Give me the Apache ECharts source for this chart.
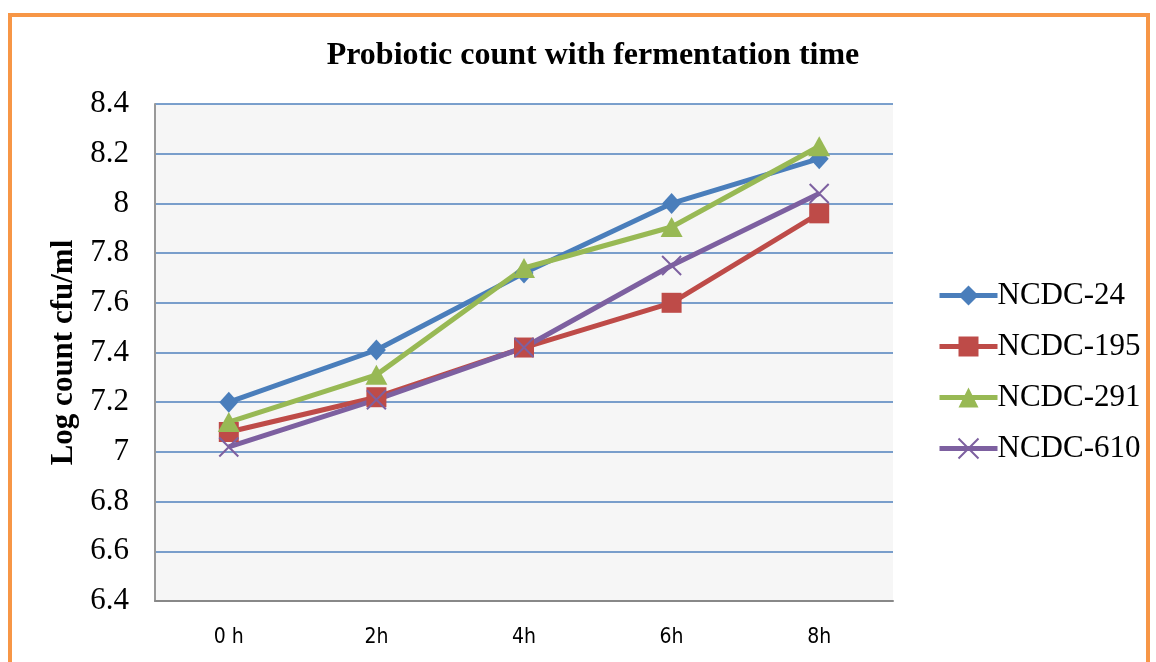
<!DOCTYPE html>
<html><head><meta charset="utf-8">
<script src="https://cdn.jsdelivr.net/npm/echarts@6/dist/echarts.min.js"></script>
<style>html,body{margin:0;padding:0;background:#fff}#c{width:1156px;height:662px}</style>
</head><body><div id="c"></div>
<script>
const categories = ['0 h', '2h', '4h', '6h', '8h'];
const ncdc24  = [7.20, 7.41, 7.72, 8.00, 8.18];
const ncdc195 = [7.08, 7.22, 7.42, 7.60, 7.96];
const ncdc291 = [7.12, 7.31, 7.74, 7.905, 8.23];
const ncdc610 = [7.02, 7.21, 7.42, 7.75, 8.04];
const seriesNames = ['NCDC-24', 'NCDC-195', 'NCDC-291', 'NCDC-610'];
const yTicks = { min: 6.4, max: 8.4, interval: 0.2 };

const chart = echarts.init(document.getElementById('c'));
const serif = '"Liberation Serif", "Times New Roman", serif';
function mk(name, data, color, symbol, size, extra) {
  return Object.assign({
    name, type: 'line', data, symbol, symbolSize: size,
    lineStyle: { color, width: 5 },
    itemStyle: { color },
    emphasis: { disabled: true },
    z: 3
  }, extra || {});
}
chart.setOption({
  animation: false,
  title: {
    text: 'Probiotic count with fermentation time',
    left: 588, top: 35, textAlign: 'center',
    textStyle: { fontFamily: serif, fontWeight: 'bold', fontSize: 32, color: '#000' }
  },
  graphic: [{
    type: 'rect', shape: { x: 10, y: 15, width: 1138, height: 700 },
    style: { fill: 'none', stroke: '#F79646', lineWidth: 4 }, z: -1
  }],
  grid: { left: 155, right: 263, top: 104, bottom: 61, show: true, backgroundColor: '#F6F6F6', borderWidth: 0 },
  legend: {
    orient: 'vertical', left: 932, top: 275, itemGap: 20,
    itemWidth: 58, itemHeight: 25,
    lineStyle: { width: 5 },
    textStyle: { fontFamily: serif, fontSize: 31, color: '#000', padding: [0, 0, 0, -5] },
    data: seriesNames
  },
  xAxis: {
    type: 'category', data: categories, boundaryGap: true,
    axisLine: { lineStyle: { color: '#888', width: 2 } },
    axisTick: { show: false },
    axisLabel: { fontFamily: '"DejaVu Sans Condensed", "Open Sans", sans-serif', fontSize: 21, color: '#000', margin: 26 }
  },
  yAxis: {
    type: 'value', min: yTicks.min, max: yTicks.max, interval: yTicks.interval,
    name: 'Log count cfu/ml', nameLocation: 'middle', nameGap: 76, nameRotate: 90,
    nameTextStyle: { fontFamily: serif, fontWeight: 'bold', fontSize: 31, color: '#000' },
    axisLine: { show: true, lineStyle: { color: '#999', width: 2 } },
    axisTick: { show: false },
    splitLine: { lineStyle: { color: '#4F81BD', width: 1.5 } },
    axisLabel: {
      fontFamily: serif, fontSize: 31, color: '#000', margin: 26,
      formatter: v => String(Math.round(v * 10) / 10)
    }
  },
  series: [
    mk('NCDC-24', ncdc24, '#4A7EBB', 'diamond', [19, 21]),
    mk('NCDC-195', ncdc195, '#BE4B48', 'rect', 20),
    mk('NCDC-291', ncdc291, '#98B954', 'triangle', [22, 20]),
    mk('NCDC-610', ncdc610, '#7D60A0', 'path://M0,0L10,10M10,0L0,10', 19, {
      itemStyle: { color: 'none', borderColor: '#7D60A0', borderWidth: 2 }
    })
  ]
});
</script></body></html>
